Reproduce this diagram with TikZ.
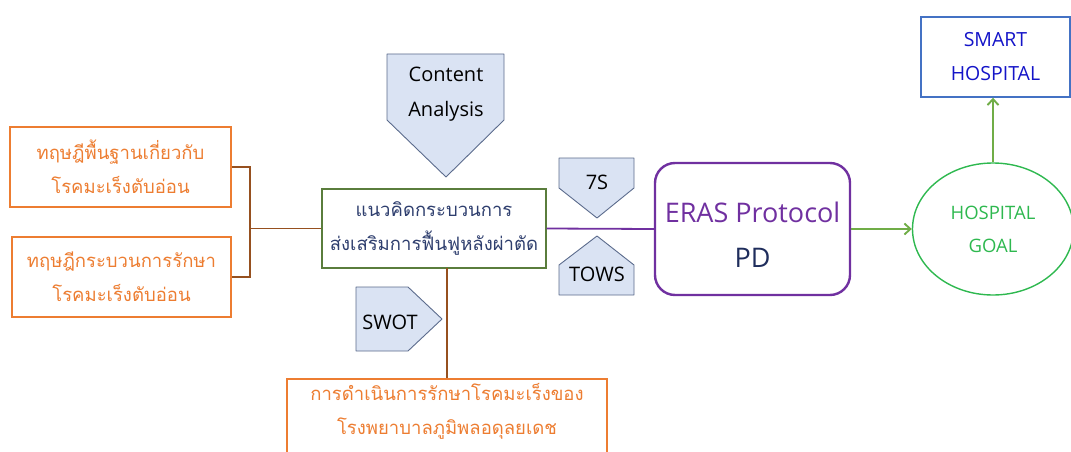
\documentclass[tikz,border=0pt]{standalone}
\usepackage{fontspec}
\setmainfont{Open Sans}
\newfontfamily\thai[Script=Thai]{Loma}
\usetikzlibrary{arrows.meta,shapes.geometric}
\definecolor{orng}{HTML}{ED7D31}
\definecolor{brwn}{HTML}{96501F}
\definecolor{olive}{HTML}{5A7D3C}
\definecolor{navy}{HTML}{2E3E6E}
\definecolor{pfill}{HTML}{DAE3F3}
\definecolor{pdraw}{HTML}{5B6B8C}
\definecolor{purp}{HTML}{7030A0}
\definecolor{grn}{HTML}{70AD47}
\definecolor{brgreen}{HTML}{2EB84F}
\definecolor{sblue}{HTML}{4472C4}
\definecolor{stext}{HTML}{1414C8}
\definecolor{pdtext}{HTML}{1F2D5C}
\begin{document}
\begin{tikzpicture}[x=1pt,y=-1pt,
  thaitext/.style={font={\thai\fontsize{18.5}{34}\selectfont}, align=center},
  obox/.style={draw=orng, line width=1.8pt, fill=white, text=orng, thaitext, inner sep=0pt},
  penta/.style={draw=pdraw, fill=pfill, line width=0.9pt, line join=round},
  ptext/.style={font={\fontsize{20}{35}\selectfont}, align=center, text=black},
  brline/.style={draw=brwn, line width=1.9pt},
  garrow/.style={draw=grn, line width=1.9pt, -{Straight Barb[length=6pt,width=11pt]}}
]
\useasboundingbox (0,0) rectangle (1071,452);
\clip (0,0) rectangle (1071,452);
% left boxes
\node[obox, minimum width=221pt, minimum height=80pt] (b1) at (120.5,167) {ทฤษฎีพื้นฐานเกี่ยวกับ\\โรคมะเร็งตับอ่อน};
\node[obox, minimum width=219pt, minimum height=80pt] (b2) at (121.5,277) {ทฤษฎีกระบวนการรักษา\\โรคมะเร็งตับอ่อน};
% centre box
\node[draw=olive, line width=1.1pt, fill=white, text=navy, thaitext, minimum width=224pt, minimum height=79pt, inner sep=0pt] (mid) at (434,228.5) {แนวคิดกระบวนการ\\ส่งเสริมการฟื้นฟูหลังผ่าตัด};
% bottom box
\node[obox, minimum width=320pt, minimum height=110pt, anchor=north] (b3) at (447,378) {};
\node[text=orng, thaitext, anchor=north] (b3t) at (447,380) {การดำเนินการรักษาโรคมะเร็งของ\\โรงพยาบาลภูมิพลอดุลยเดช};
% bracket
\coordinate (j) at (250,228.5);
\draw[brline] (b1.east) -| (j) |- (b2.east);
\draw[brline] (j) -- (mid.west);
\coordinate (vb) at (447,268);
\draw[brline] (vb) -- (vb |- b3.north);
% pentagons
\draw[penta] (387,54) -- (504,54) -- (504,120) -- (446,177) -- (387,120) -- cycle;
\node[ptext] (ca) at (446,94) {Content\\Analysis};
\draw[penta] (559,158) -- (634,158) -- (634,188) -- (597,218) -- (559,188) -- cycle;
\node[ptext] (s7) at (597,182) {7S};
\draw[penta] (559,295) -- (634,295) -- (634,265) -- (597,236) -- (559,265) -- cycle;
\node[ptext] (tows) at (597,274) {TOWS};
\draw[penta] (356,287) -- (408,287) -- (442,319) -- (408,351) -- (356,351) -- cycle;
\node[ptext] (swot) at (390,322) {SWOT};
% ERAS
\node[draw=purp, line width=2.4pt, rounded corners=20pt, minimum width=195pt, minimum height=132pt, inner sep=0pt] (eras) at (752.5,229) {};
\node[text=purp, font={\fontsize{27}{30}\selectfont}] (erast) at (752.5,212) {ERAS Protocol};
\node[text=pdtext, font={\fontsize{27}{30}\selectfont}] (pd) at (752.5,258) {PD};
\draw[draw=purp, line width=1.8pt] (mid.east) -- (eras.west);
% goal
\node[ellipse, draw=brgreen, line width=1.4pt, minimum width=161pt, minimum height=132pt, inner sep=0pt, text=brgreen, font={\fontsize{18.5}{33}\selectfont}, align=center] (goal) at (993,229) {HOSPITAL\\GOAL};
\node[draw=sblue, line width=1.4pt, minimum width=149pt, minimum height=80pt, inner sep=0pt, text=stext, font={\fontsize{19.5}{34}\selectfont}, align=center] (smart) at (995.5,57) {SMART\\HOSPITAL};
\draw[garrow] (eras.east) -- (goal.west);
\draw[garrow] (goal.north) -- (goal.north |- smart.south);
\end{tikzpicture}
\end{document}
